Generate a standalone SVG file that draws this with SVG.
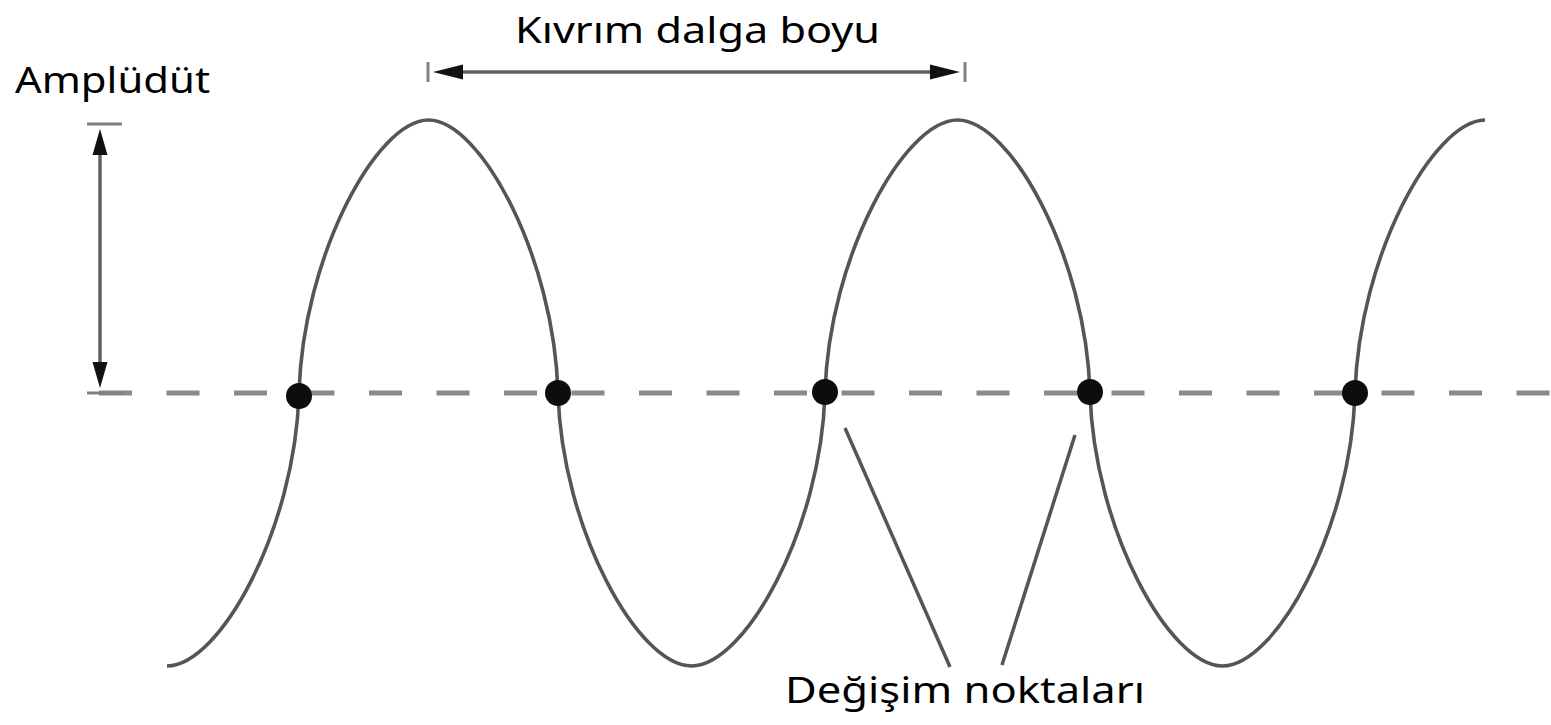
<svg xmlns="http://www.w3.org/2000/svg" width="1551" height="725" viewBox="0 0 1551 725">
<style>
.lbl{font-family:"Noto Sans","DejaVu Sans",sans-serif;font-size:36px;fill:#000}
.wave{fill:none;stroke:#555;stroke-width:3.6}
.axis{fill:none;stroke:#8a8a8a;stroke-width:5;stroke-dasharray:33 34.5}
.dim{fill:none;stroke:#606060;stroke-width:3.5}
.tick{fill:none;stroke:#808080;stroke-width:3}
.head{fill:#111}
.dot{fill:#0d0d0d}
.ptr{fill:none;stroke:#555;stroke-width:3.5}
</style>
<rect width="1551" height="725" fill="#fff"/>
<line id="axis" class="axis" x1="99" y1="393" x2="1551" y2="393"/>
<path id="wave" class="wave" d="M167,666 C219.8,666 295,529.5 299,393 C302.9,256.5 376.7,120 428.5,120 C480.3,120 554.1,256.5 558,393 C562,529.5 638.1,666 691.5,666 C744.9,666 821,529.5 825,393 C829,256.5 904.5,120 957.5,120 C1010.5,120 1086,256.5 1090,393 C1094,529.5 1169.5,666 1222.5,666 C1275.5,666 1351,529.5 1355,393 C1359,256.5 1433,121 1485,120"/>
<g id="amplitude">
<line class="tick" x1="87" y1="124" x2="122" y2="124"/>
<line class="tick" x1="87" y1="393" x2="122" y2="393"/>
<line class="dim" x1="100" y1="140" x2="100" y2="378"/>
<polygon class="head" points="100,129 107.5,155 92.5,155"/>
<polygon class="head" points="100,388 107.5,362 92.5,362"/>
<text class="lbl" x="15" y="93" textLength="195" lengthAdjust="spacingAndGlyphs">Amplüdüt</text>
</g>
<g id="wavelength">
<line class="tick" x1="428" y1="62" x2="428" y2="82"/>
<line class="tick" x1="965" y1="62" x2="965" y2="82"/>
<line class="dim" x1="450" y1="72" x2="945" y2="72"/>
<polygon class="head" points="433,72 463,64.5 463,79.5"/>
<polygon class="head" points="960,72 930,64.5 930,79.5"/>
<text class="lbl" x="515" y="43" textLength="365" lengthAdjust="spacingAndGlyphs">Kıvrım dalga boyu</text>
</g>
<g id="points">
<circle class="dot" cx="299" cy="396" r="13"/>
<circle class="dot" cx="558" cy="393" r="13"/>
<circle class="dot" cx="825" cy="392" r="13"/>
<circle class="dot" cx="1090" cy="392" r="13"/>
<circle class="dot" cx="1355" cy="393" r="13"/>
</g>
<g id="pointers">
<line class="ptr" x1="845" y1="428" x2="950" y2="667"/>
<line class="ptr" x1="1075" y1="435" x2="1002" y2="665"/>
<text class="lbl" x="785" y="703" textLength="360" lengthAdjust="spacingAndGlyphs">Değişim noktaları</text>
</g>
</svg>
